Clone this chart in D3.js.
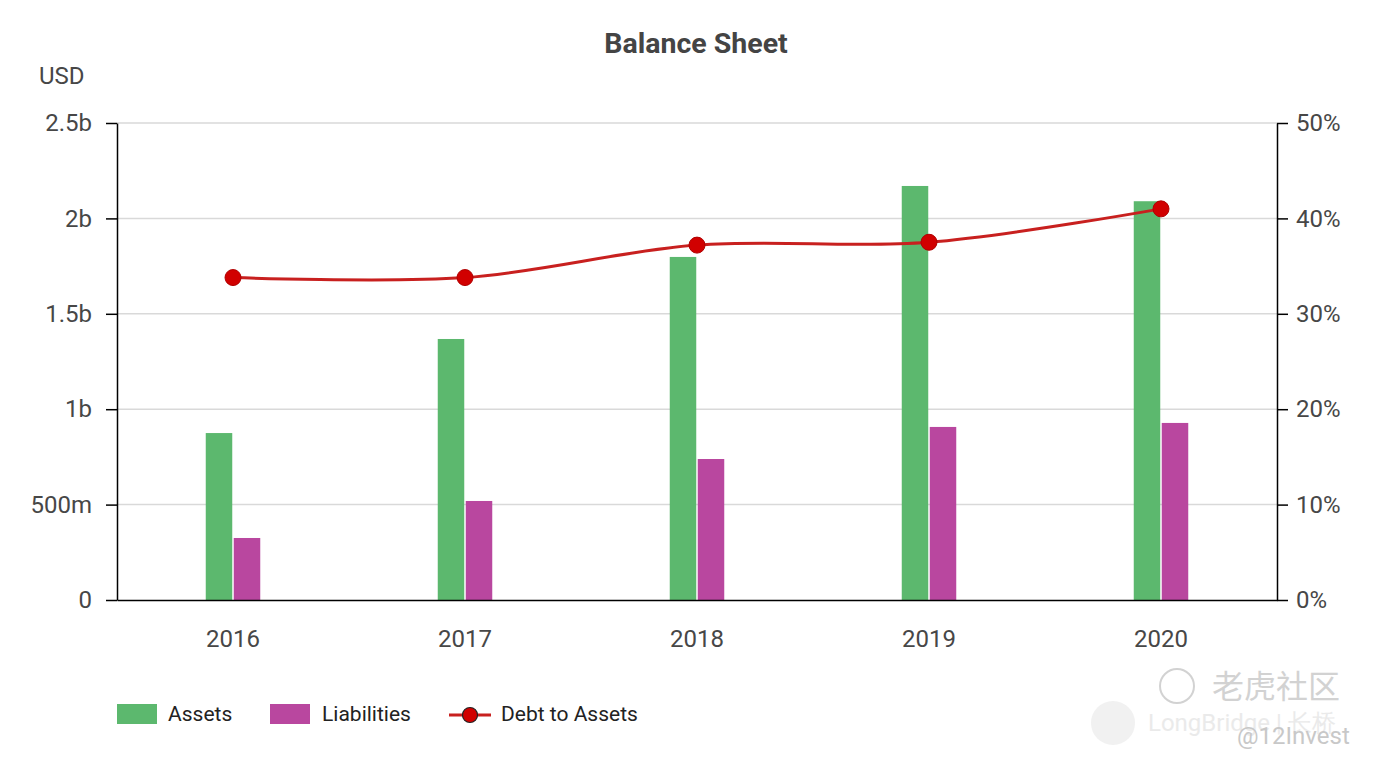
<!DOCTYPE html>
<html>
<head>
<meta charset="utf-8">
<script src="https://cdn.jsdelivr.net/npm/d3@7"></script>
<style>
  body { margin: 0; background: #fff; font-family: Roboto, "Noto Sans", sans-serif; }
  svg text { font-family: Roboto, "Noto Sans", sans-serif; }
</style>
</head>
<body>
<div id="chart"></div>
<script>
// chart data
const years = ["2016", "2017", "2018", "2019", "2020"];
const assets = [0.875e9, 1.368e9, 1.798e9, 2.17e9, 2.09e9];
const liabilities = [0.325e9, 0.519e9, 0.739e9, 0.907e9, 0.928e9];
const debtToAssets = [33.8, 33.8, 37.2, 37.5, 41.0];
const leftTicks = [0, 0.5e9, 1e9, 1.5e9, 2e9, 2.5e9];
const leftTickLabels = ["0", "500m", "1b", "1.5b", "2b", "2.5b"];
const rightTicks = [0, 10, 20, 30, 40, 50];

const W = 1377, H = 765;
const margin = { top: 123, right: 100, bottom: 165, left: 117 };
const innerW = W - margin.left - margin.right;
const innerH = H - margin.top - margin.bottom;

const svg = d3.select("#chart").append("svg")
    .attr("width", W)
    .attr("height", H);

const g = svg.append("g").attr("transform", `translate(${margin.left},${margin.top})`);

const x = d3.scaleBand().domain(years).range([0, innerW]).padding(0);
const yL = d3.scaleLinear().domain([0, 2.5e9]).range([innerH, 0]);
const yR = d3.scaleLinear().domain([0, 50]).range([innerH, 0]);

// gridlines
g.append("g")
    .selectAll("line")
    .data(leftTicks.slice(1))
    .join("line")
    .attr("x1", 0).attr("x2", innerW)
    .attr("y1", d => yL(d)).attr("y2", d => yL(d))
    .attr("stroke", "#d9d9d9")
    .attr("stroke-width", 1.5);

// bars
const barW = 26.5, gap = 1.5;
g.append("g").selectAll("rect")
    .data(assets)
    .join("rect")
    .attr("x", (d, i) => x(years[i]) + x.bandwidth() / 2 - barW - gap / 2)
    .attr("y", d => yL(d))
    .attr("width", barW)
    .attr("height", d => innerH - yL(d))
    .attr("fill", "#5cb86e");

g.append("g").selectAll("rect")
    .data(liabilities)
    .join("rect")
    .attr("x", (d, i) => x(years[i]) + x.bandwidth() / 2 + gap / 2)
    .attr("y", d => yL(d))
    .attr("width", barW)
    .attr("height", d => innerH - yL(d))
    .attr("fill", "#b9479f");

// axes
const tickStyle = sel => {
    sel.select(".domain").attr("stroke", "#000").attr("stroke-width", 1.5);
    sel.selectAll(".tick line").attr("stroke", "#000").attr("stroke-width", 1.5);
    sel.selectAll(".tick text").attr("fill", "#474747").style("font-size", "24px");
};

g.append("g")
    .call(d3.axisLeft(yL).tickValues(leftTicks).tickFormat((d, i) => leftTickLabels[i]).tickSize(11).tickSizeOuter(0).tickPadding(14))
    .call(tickStyle);

g.append("g")
    .attr("transform", `translate(${innerW},0)`)
    .call(d3.axisRight(yR).tickValues(rightTicks).tickFormat(d => d + "%").tickSize(11).tickSizeOuter(0).tickPadding(8))
    .call(tickStyle);

g.append("g")
    .attr("transform", `translate(0,${innerH})`)
    .call(d3.axisBottom(x).tickSize(0).tickPadding(30))
    .call(tickStyle);

// debt to assets line
const pts = debtToAssets.map((d, i) => [x(years[i]) + x.bandwidth() / 2, yR(d)]);
g.append("path")
    .datum(pts)
    .attr("fill", "none")
    .attr("stroke", "#c8201f")
    .attr("stroke-width", 3)
    .attr("d", d3.line().curve(d3.curveCatmullRom.alpha(0.5)));

g.append("g").selectAll("circle")
    .data(pts)
    .join("circle")
    .attr("cx", d => d[0])
    .attr("cy", d => d[1])
    .attr("r", 8)
    .attr("fill", "#d10000")
    .attr("stroke", "#b00000")
    .attr("stroke-width", 1);

// title & unit
svg.append("text")
    .attr("x", 696).attr("y", 53)
    .attr("text-anchor", "middle")
    .attr("fill", "#444")
    .style("font-size", "28.5px")
    .style("font-weight", "bold")
    .text("Balance Sheet");

svg.append("text")
    .attr("x", 39).attr("y", 84)
    .attr("fill", "#474747")
    .style("font-size", "24px")
    .text("USD");

// legend
const legend = svg.append("g").attr("transform", "translate(0,714)");
legend.append("rect").attr("x", 117).attr("y", -10).attr("width", 40).attr("height", 20).attr("fill", "#5cb86e");
legend.append("text").attr("x", 168).attr("y", 7).attr("fill", "#222").style("font-size", "21px").text("Assets");
legend.append("rect").attr("x", 270).attr("y", -10).attr("width", 40).attr("height", 20).attr("fill", "#b9479f");
legend.append("text").attr("x", 322).attr("y", 7).attr("fill", "#222").style("font-size", "21px").text("Liabilities");
legend.append("line").attr("x1", 449).attr("x2", 491).attr("y1", 1).attr("y2", 1).attr("stroke", "#c8201f").attr("stroke-width", 3);
legend.append("circle").attr("cx", 470).attr("cy", 1).attr("r", 7.5).attr("fill", "#d10000").attr("stroke", "#222").attr("stroke-width", 1.2);
legend.append("text").attr("x", 501).attr("y", 7).attr("fill", "#222").style("font-size", "21px").text("Debt to Assets");

// watermark
const wm = svg.append("g").attr("fill", "#c8c8c8").attr("opacity", 0.8);
wm.append("circle").attr("cx", 1177).attr("cy", 686).attr("r", 17).attr("fill", "none").attr("stroke", "#c8c8c8").attr("stroke-width", 2);
wm.append("text").attr("x", 1212).attr("y", 698).style("font-size", "32px").style("font-family", "'Noto Sans CJK SC'").text("老虎社区");
wm.append("circle").attr("cx", 1113).attr("cy", 723).attr("r", 22).attr("fill", "#eeeeee");
wm.append("text").attr("x", 1148).attr("y", 731).attr("fill", "#e6e6e6").style("font-size", "24px").text("LongBridge | 长桥");
wm.append("text").attr("x", 1237).attr("y", 744).attr("fill", "#bbbbbb").style("font-size", "24px").text("@12Invest");
</script>
</body>
</html>
